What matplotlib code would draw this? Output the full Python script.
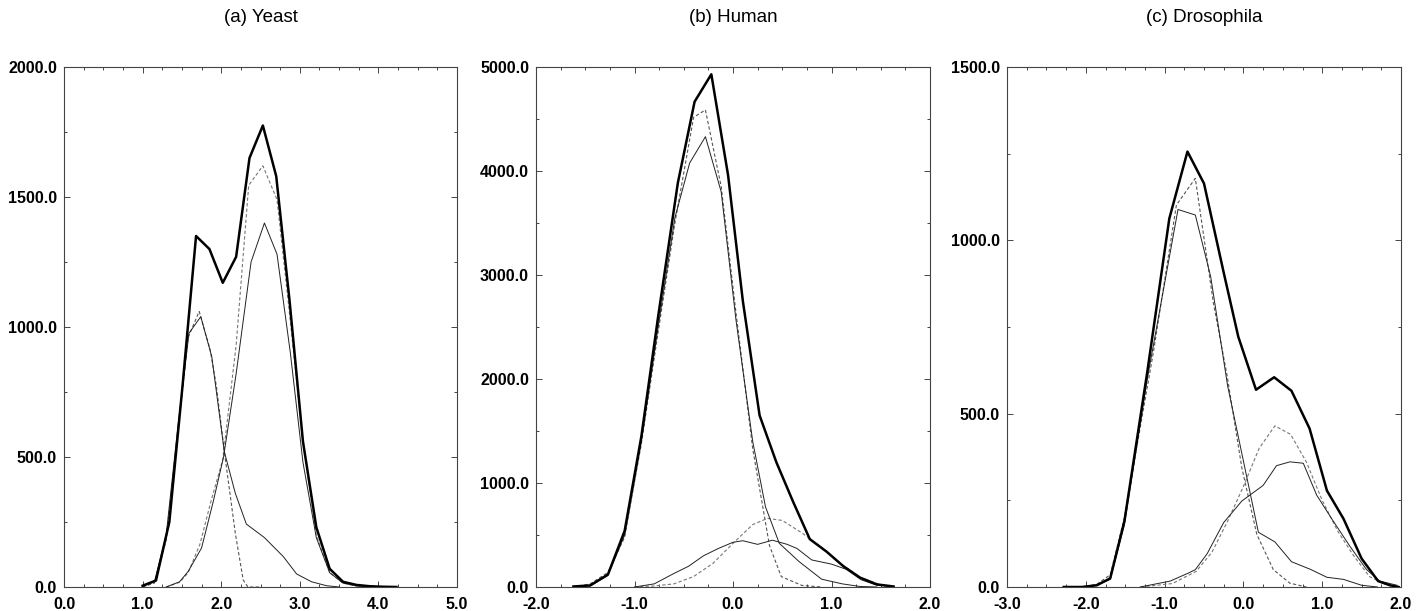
import numpy as np
import matplotlib as mpl
mpl.use('Agg')
import matplotlib.pyplot as plt
from matplotlib.ticker import MultipleLocator, FormatStrFormatter

plt.rcParams['font.family'] = ['Liberation Sans', 'DejaVu Sans']

# ---- (a) Yeast ----
yeast_total_x = [1.00, 1.17, 1.34, 1.51, 1.68, 1.85, 2.02, 2.19, 2.36, 2.53, 2.70, 2.87, 3.04, 3.21, 3.38, 3.55, 3.72, 3.89, 4.06, 4.23]
yeast_total_y = [5, 25, 250, 780, 1350, 1300, 1170, 1270, 1650, 1775, 1580, 1100, 560, 230, 70, 20, 8, 3, 1, 0]
yeast_c1_x = [1.00, 1.15, 1.30, 1.45, 1.59, 1.74, 1.88, 2.04, 2.18, 2.32, 2.55, 2.79, 2.96, 3.15, 3.34, 3.50]
yeast_c1_y = [2, 20, 200, 620, 976, 1040, 886, 520, 360, 242, 190, 117, 50, 20, 5, 0]
yeast_c1g_x = [1.00, 1.15, 1.30, 1.45, 1.58, 1.72, 1.86, 1.94, 2.04, 2.18, 2.28, 2.34, 2.50]
yeast_c1g_y = [0, 15, 180, 600, 960, 1060, 912, 770, 520, 206, 27, 0, 0]
yeast_c2_x = [1.30, 1.47, 1.58, 1.75, 1.90, 2.03, 2.19, 2.38, 2.55, 2.71, 2.88, 3.04, 3.21, 3.38, 3.55, 3.72, 3.89]
yeast_c2_y = [0, 20, 60, 150, 330, 500, 820, 1250, 1400, 1280, 900, 480, 190, 55, 15, 5, 0]
yeast_c2g_x = [1.30, 1.47, 1.58, 1.73, 1.87, 2.02, 2.19, 2.35, 2.53, 2.71, 2.87, 3.04, 3.21, 3.38, 3.55, 3.72, 3.89]
yeast_c2g_y = [0, 18, 55, 165, 330, 490, 930, 1545, 1620, 1490, 1050, 560, 200, 55, 15, 3, 0]

# ---- (b) Human ----
human_total_x = [-1.62, -1.45, -1.27, -1.10, -0.93, -0.76, -0.56, -0.39, -0.22, -0.05, 0.10, 0.27, 0.44, 0.61, 0.78, 0.95, 1.12, 1.29, 1.46, 1.63]
human_total_y = [5, 15, 120, 540, 1450, 2600, 3885, 4666, 4930, 3960, 2750, 1650, 1200, 820, 460, 340, 200, 90, 25, 5]
human_c1_x = [-1.62, -1.45, -1.27, -1.10, -0.93, -0.76, -0.59, -0.44, -0.28, -0.12, 0.03, 0.20, 0.33, 0.47, 0.67, 0.90, 1.11, 1.29, 1.46]
human_c1_y = [0, 10, 110, 500, 1400, 2500, 3550, 4077, 4330, 3800, 2570, 1400, 770, 420, 245, 75, 30, 5, 0]
human_c1g_x = [-1.62, -1.45, -1.27, -1.10, -0.93, -0.76, -0.59, -0.40, -0.28, -0.12, 0.03, 0.20, 0.37, 0.49, 0.70, 0.90]
human_c1g_y = [0, 30, 140, 480, 1380, 2450, 3500, 4516, 4587, 3850, 2640, 1330, 400, 100, 15, 0]
human_c2_x = [-1.00, -0.80, -0.60, -0.45, -0.30, -0.15, 0.00, 0.10, 0.25, 0.40, 0.55, 0.65, 0.80, 1.00, 1.15, 1.30, 1.45, 1.60]
human_c2_y = [0, 30, 130, 200, 300, 370, 430, 445, 410, 450, 410, 370, 260, 220, 170, 70, 20, 5]
human_c2g_x = [-1.00, -0.80, -0.60, -0.40, -0.20, 0.00, 0.20, 0.35, 0.50, 0.70, 0.90, 1.10, 1.30, 1.50, 1.65]
human_c2g_y = [0, 10, 30, 100, 230, 420, 600, 660, 640, 520, 380, 220, 90, 20, 0]

# ---- (c) Drosophila ----
dros_total_x = [-2.28, -2.05, -1.86, -1.69, -1.51, -1.22, -0.94, -0.71, -0.50, -0.25, -0.065, 0.16, 0.39, 0.61, 0.84, 1.06, 1.27, 1.50, 1.71, 1.86, 1.97]
dros_total_y = [0, 0, 5, 25, 190, 620, 1063, 1256, 1164, 907, 722, 569, 605, 566, 457, 278, 197, 82, 17, 5, 0]
dros_c1_x = [-2.28, -2.05, -1.86, -1.69, -1.51, -1.22, -0.83, -0.61, -0.415, -0.20, 0.19, 0.40, 0.61, 0.85, 1.06, 1.27, 1.50, 1.70]
dros_c1_y = [0, 0, 5, 22, 180, 600, 1089, 1073, 895, 580, 158, 130, 73, 51, 28, 22, 5, 0]
dros_c1g_x = [-2.28, -2.05, -1.86, -1.69, -1.51, -1.14, -0.85, -0.61, -0.38, -0.21, -0.02, 0.17, 0.38, 0.59, 0.80]
dros_c1g_y = [0, 0, 8, 35, 200, 680, 1102, 1179, 818, 614, 344, 152, 50, 11, 0]
dros_c2_x = [-1.31, -0.93, -0.70, -0.61, -0.46, -0.25, -0.02, 0.25, 0.42, 0.59, 0.76, 0.93, 1.12, 1.35, 1.56, 1.73, 1.95]
dros_c2_y = [0, 17, 40, 50, 96, 186, 248, 293, 350, 361, 357, 265, 197, 118, 51, 17, 5]
dros_c2g_x = [-1.30, -0.90, -0.60, -0.40, -0.20, 0.00, 0.20, 0.40, 0.60, 0.80, 1.00, 1.20, 1.40, 1.60, 1.80, 1.95]
dros_c2g_y = [0, 10, 45, 100, 190, 290, 400, 465, 440, 360, 250, 160, 90, 30, 8, 0]

titles = ['(a) Yeast', '(b) Human', '(c) Drosophila']
xlims = [(0.0, 5.0), (-2.0, 2.0), (-3.0, 2.0)]
ylims = [(0.0, 2000.0), (0.0, 5000.0), (0.0, 1500.0)]
ymajor = [500.0, 1000.0, 500.0]
yminor = [250.0, 500.0, 250.0]

panels = [
    (yeast_total_x, yeast_total_y, yeast_c1_x, yeast_c1_y, yeast_c1g_x, yeast_c1g_y,
     yeast_c2_x, yeast_c2_y, yeast_c2g_x, yeast_c2g_y),
    (human_total_x, human_total_y, human_c1_x, human_c1_y, human_c1g_x, human_c1g_y,
     human_c2_x, human_c2_y, human_c2g_x, human_c2g_y),
    (dros_total_x, dros_total_y, dros_c1_x, dros_c1_y, dros_c1g_x, dros_c1g_y,
     dros_c2_x, dros_c2_y, dros_c2g_x, dros_c2g_y),
]

W, H = 1423, 611
fig = plt.figure(figsize=(W / 100, H / 100), dpi=100)
lefts = [64, 536, 1007]
widths = [393, 394, 394]
top, bottom = 67, 587

for i in range(3):
    ax = fig.add_axes([lefts[i] / W, (H - bottom) / H, widths[i] / W, (bottom - top) / H])
    tx, ty, c1x, c1y, g1x, g1y, c2x, c2y, g2x, g2y = panels[i]

    # fitted components (dashed), observed components (thin), total (thick)
    ax.plot(g1x, g1y, color='#555555', lw=0.8, dashes=(3, 2))
    ax.plot(g2x, g2y, color='#777777', lw=0.8, dashes=(3, 2))
    ax.plot(c1x, c1y, color='#222222', lw=0.7)
    ax.plot(c2x, c2y, color='#222222', lw=0.7)
    ax.plot(tx, ty, color='black', lw=1.8)

    ax.set_xlim(*xlims[i])
    ax.set_ylim(*ylims[i])
    ax.xaxis.set_major_locator(MultipleLocator(1.0))
    ax.xaxis.set_minor_locator(MultipleLocator(0.25))
    ax.yaxis.set_major_locator(MultipleLocator(ymajor[i]))
    ax.yaxis.set_minor_locator(MultipleLocator(yminor[i]))
    ax.xaxis.set_major_formatter(FormatStrFormatter('%.1f'))
    ax.yaxis.set_major_formatter(FormatStrFormatter('%.1f'))
    ax.tick_params(which='both', direction='in', top=True, right=True,
                   color='#444444', width=0.7)
    ax.tick_params(which='major', length=4)
    ax.tick_params(which='minor', length=2)
    ax.tick_params(axis='y', pad=5)
    ax.tick_params(axis='x', pad=7)
    for lab in ax.get_xticklabels() + ax.get_yticklabels():
        lab.set_fontsize(11.5)
        lab.set_fontweight('bold')
    for sp in ax.spines.values():
        sp.set_linewidth(0.8)
        sp.set_color('#444444')

    cx = (lefts[i] + widths[i] / 2) / W
    fig.text(cx, 1 - 18 / H, titles[i], ha='center', va='center', fontsize=13.5)

plt.savefig('out.png', dpi=100)
